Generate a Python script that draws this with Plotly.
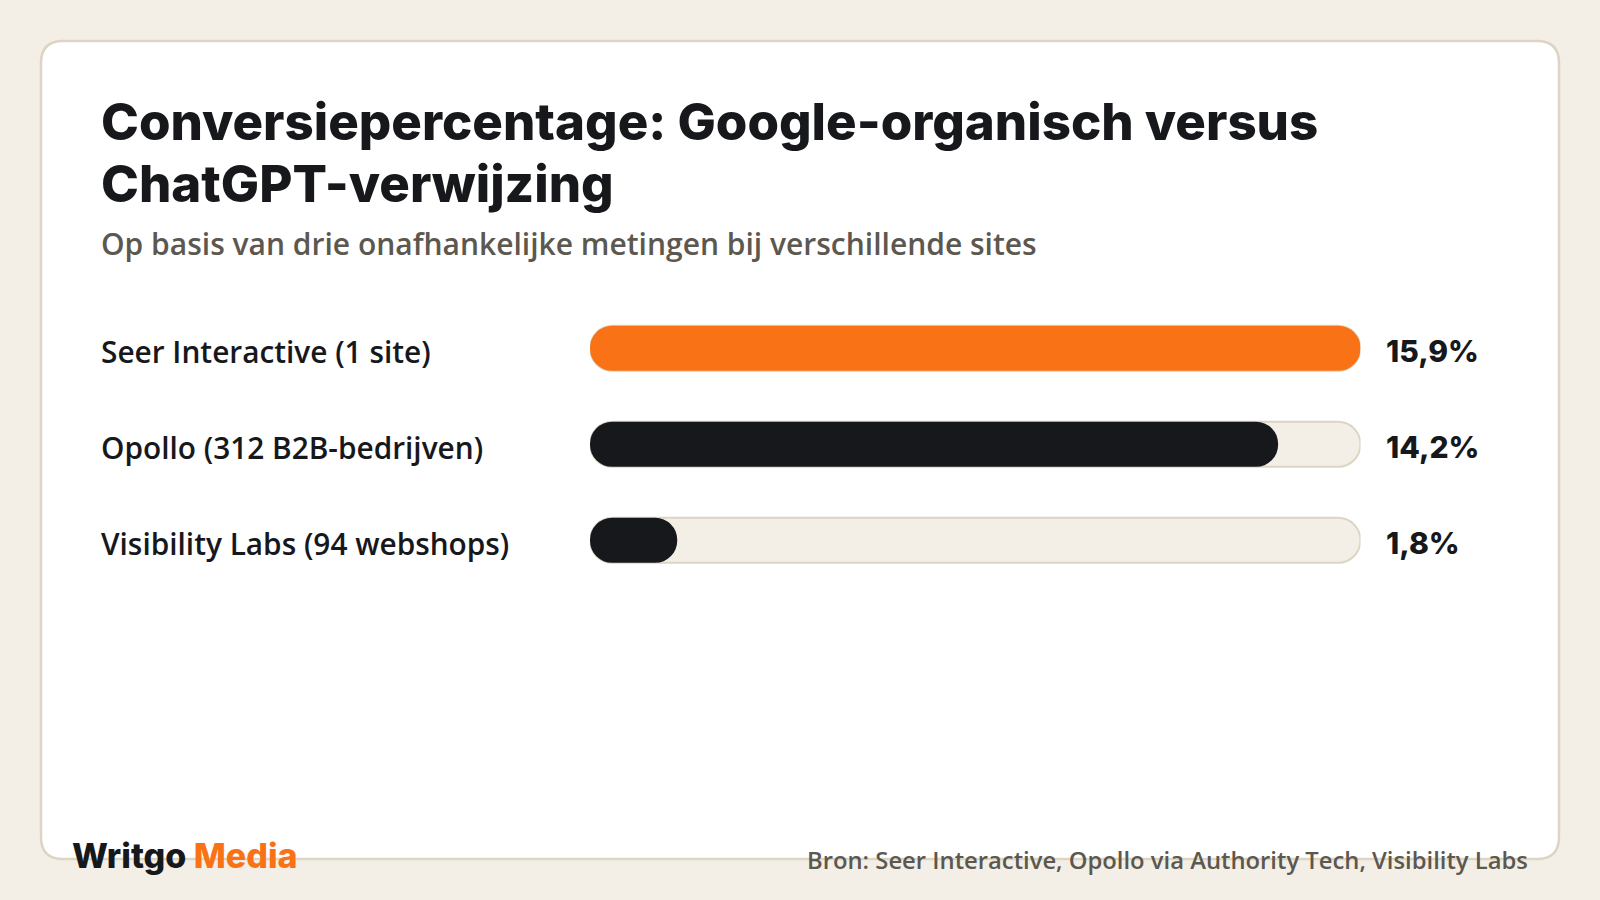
import plotly.graph_objects as go

# ---- data ----
categories = ["Seer Interactive (1 site)", "Opollo (312 B2B-bedrijven)", "Visibility Labs (94 webshops)"]
values = [15.9, 14.2, 1.8]
value_labels = ["15,9%", "14,2%", "1,8%"]
bar_colors = ["#f97316", "#17181c", "#17181c"]

title_lines = ["Conversiepercentage: Google-organisch versus", "ChatGPT-verwijzing"]
subtitle = "Op basis van drie onafhankelijke metingen bij verschillende sites"
source = "Bron: Seer Interactive, Opollo via Authority Tech, Visibility Labs"

W, H = 1600, 900
BG = "#f3efe7"
BORDER = "#ddd5c3"
DARK = "#17181c"
GREY = "#5c5850"
BAR_W = 0.469

def px(x):
    return x / W

def py(y):
    return 1 - y / H

idx = list(range(len(categories)))
track_max = max(values)

fig = go.Figure()
# track (background pill)
fig.add_trace(go.Bar(
    x=[track_max] * len(values), base=[0] * len(values),
    y=idx, orientation="h", width=BAR_W,
    marker=dict(color=BG, line=dict(color=BORDER, width=2), cornerradius="50%"),
    hoverinfo="skip", showlegend=False,
))
# value pills
fig.add_trace(go.Bar(
    x=values, base=[0] * len(values),
    y=idx, orientation="h", width=BAR_W,
    marker=dict(color=bar_colors, line=dict(width=0), cornerradius="50%"),
    hoverinfo="skip", showlegend=False,
))

# card
x0, x1, y0, y1, r = 41, 1559, 41, 859, 22
path = (f"M {px(x0 + r)} {py(y0)} L {px(x1 - r)} {py(y0)} Q {px(x1)} {py(y0)} {px(x1)} {py(y0 + r)} "
        f"L {px(x1)} {py(y1 - r)} Q {px(x1)} {py(y1)} {px(x1 - r)} {py(y1)} "
        f"L {px(x0 + r)} {py(y1)} Q {px(x0)} {py(y1)} {px(x0)} {py(y1 - r)} "
        f"L {px(x0)} {py(y0 + r)} Q {px(x0)} {py(y0)} {px(x0 + r)} {py(y0)} Z")
fig.add_shape(type="path", path=path, xref="paper", yref="paper",
              fillcolor="#ffffff", line=dict(color=BORDER, width=2.5), layer="below")

ann = []
title_font = dict(family="Inter", size=51, color=DARK, weight=800)
ann.append(dict(text=title_lines[0], x=px(99), y=py(121), font=title_font))
ann.append(dict(text=title_lines[1], x=px(99), y=py(183), font=title_font))
ann.append(dict(text=subtitle, x=px(99), y=py(243),
                font=dict(family="Open Sans", size=30, color=GREY, weight=600)))
for i, c in enumerate(categories):
    ann.append(dict(text=c, x=px(99), y=i, yref="y", yshift=-3,
                    font=dict(family="Open Sans", size=29.8, color=DARK, weight=600)))
    ann.append(dict(text=value_labels[i], x=px(1384), y=i, yref="y", yshift=-3,
                    font=dict(family="Inter", size=30, color=DARK, weight=800)))
ann.append(dict(text="Writgo <span style='color:#f97316'>Media</span>", x=px(70), y=py(855.5),
                font=dict(family="Inter", size=34, color=DARK, weight=800)))
ann.append(dict(text=source, x=px(1530), y=py(860), xanchor="right",
                font=dict(family="Open Sans", size=23.8, color=GREY, weight=600)))
for a in ann:
    a.setdefault("xref", "paper")
    a.setdefault("yref", "paper")
    a.setdefault("xanchor", "left")
    a.setdefault("yanchor", "middle")
    a["showarrow"] = False

fig.update_layout(
    width=W, height=H,
    margin=dict(l=0, r=0, t=0, b=0),
    paper_bgcolor=BG, plot_bgcolor="rgba(0,0,0,0)",
    barmode="overlay",
    annotations=ann,
    xaxis=dict(domain=[px(590), px(1360.5)], range=[0, track_max], visible=False, fixedrange=True),
    yaxis=dict(domain=[py(588.3), py(300.3)], range=[2.5, -0.5], visible=False, fixedrange=True),
    showlegend=False,
)

fig.write_html("out.html", config={"displayModeBar": False},
               post_script="document.body.style.margin='0';document.body.style.padding='0';")
